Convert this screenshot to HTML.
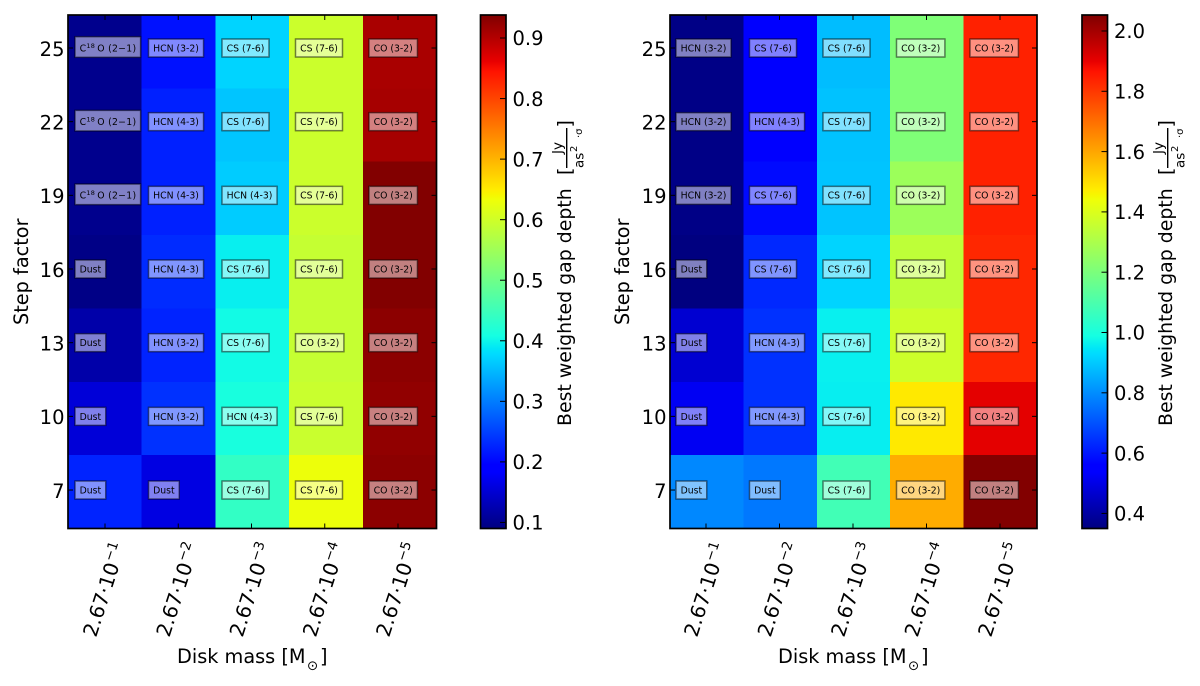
<!DOCTYPE html>
<html lang="en">
<head>
<meta charset="utf-8">
<title>Best weighted gap depth heatmaps</title>
<style>
  html, body { margin: 0; padding: 0; background: #fff; }
  svg { display: block; }
  text { font-family: "DejaVu Sans", "Liberation Sans", sans-serif; fill: #000; }
</style>
</head>
<body>
<svg id="figure" xmlns="http://www.w3.org/2000/svg" width="1200" height="686" viewBox="0 0 1200 686">
  <defs id="defs"></defs>
  <g id="panel-left"></g>
  <g id="panel-right"></g>

  <g>
    <text transform="translate(28 325) rotate(-90)" font-size="19.3">Step factor</text>
    <text x="177" y="663" font-size="19.3">Disk mass [M</text>
    <text x="307" y="670" font-size="13.5">⊙</text>
    <text x="320" y="663" font-size="19.3">]</text>
  </g>
  <g>
    <text transform="translate(571 426) rotate(-90)" font-size="18.9">Best weighted gap depth</text>
    <text transform="translate(571 175) rotate(-90)" font-size="19">[</text>
    <text transform="translate(562 154) rotate(-90)" font-size="13.5">Jy</text>
    <line x1="566.7" x2="566.7" y1="128" y2="168" stroke="#000" stroke-width="1.4"></line>
    <text transform="translate(583.5 168) rotate(-90)" font-size="13.5">as</text>
    <text transform="translate(577 152) rotate(-90)" font-size="10">2</text>
    <text transform="translate(582 138) rotate(-90)" font-size="10">·σ</text>
    <text transform="translate(571 127.5) rotate(-90)" font-size="19">]</text>
  </g>

  <g>
    <text transform="translate(629 325) rotate(-90)" font-size="19.3">Step factor</text>
    <text x="778" y="663" font-size="19.3">Disk mass [M</text>
    <text x="908" y="670" font-size="13.5">⊙</text>
    <text x="921" y="663" font-size="19.3">]</text>
  </g>
  <g>
    <text transform="translate(1172 426) rotate(-90)" font-size="18.9">Best weighted gap depth</text>
    <text transform="translate(1172 175) rotate(-90)" font-size="19">[</text>
    <text transform="translate(1163 154) rotate(-90)" font-size="13.5">Jy</text>
    <line x1="1167.7" x2="1167.7" y1="128" y2="168" stroke="#000" stroke-width="1.4"></line>
    <text transform="translate(1184.5 168) rotate(-90)" font-size="13.5">as</text>
    <text transform="translate(1178 152) rotate(-90)" font-size="10">2</text>
    <text transform="translate(1183 138) rotate(-90)" font-size="10">·σ</text>
    <text transform="translate(1172 127.5) rotate(-90)" font-size="19">]</text>
  </g>
</svg>

<script>
// Shared categories (rows listed top to bottom)
const stepFactors = [25, 22, 19, 16, 13, 10, 7];
const massExponents = ["−1", "−2", "−3", "−4", "−5"];
const massMantissa = "2.67·10";

// Left heatmap values (rows top to bottom, columns left to right)
const leftValues = [
  [0.100, 0.210, 0.372, 0.596, 0.908],
  [0.100, 0.223, 0.360, 0.596, 0.910],
  [0.100, 0.223, 0.366, 0.596, 0.936],
  [0.095, 0.232, 0.395, 0.590, 0.936],
  [0.120, 0.225, 0.405, 0.590, 0.929],
  [0.155, 0.237, 0.412, 0.594, 0.925],
  [0.225, 0.162, 0.438, 0.631, 0.929]
];
const leftLabels = [
  ["C18O", "HCN (3-2)", "CS (7-6)", "CS (7-6)", "CO (3-2)"],
  ["C18O", "HCN (4-3)", "CS (7-6)", "CS (7-6)", "CO (3-2)"],
  ["C18O", "HCN (4-3)", "HCN (4-3)", "CS (7-6)", "CO (3-2)"],
  ["Dust", "HCN (4-3)", "CS (7-6)", "CS (7-6)", "CO (3-2)"],
  ["Dust", "HCN (3-2)", "CS (7-6)", "CO (3-2)", "CO (3-2)"],
  ["Dust", "HCN (3-2)", "HCN (4-3)", "CS (7-6)", "CO (3-2)"],
  ["Dust", "Dust", "CS (7-6)", "CS (7-6)", "CO (3-2)"]
];
const leftColorbarTicks = ["0.1", "0.2", "0.3", "0.4", "0.5", "0.6", "0.7", "0.8", "0.9"];
const leftRange = [0.09, 0.938];

// Right heatmap values (rows top to bottom, columns left to right)
const rightValues = [
  [0.36, 0.554, 0.878, 1.21, 1.84],
  [0.36, 0.546, 0.886, 1.21, 1.84],
  [0.36, 0.580, 0.890, 1.27, 1.84],
  [0.35, 0.630, 0.917, 1.34, 1.83],
  [0.47, 0.645, 0.963, 1.37, 1.83],
  [0.52, 0.645, 0.960, 1.48, 1.906],
  [0.79, 0.764, 1.080, 1.59, 2.05]
];
const rightLabels = [
  ["HCN (3-2)", "CS (7-6)", "CS (7-6)", "CO (3-2)", "CO (3-2)"],
  ["HCN (3-2)", "HCN (4-3)", "CS (7-6)", "CO (3-2)", "CO (3-2)"],
  ["HCN (3-2)", "CS (7-6)", "CS (7-6)", "CO (3-2)", "CO (3-2)"],
  ["Dust", "CS (7-6)", "CS (7-6)", "CO (3-2)", "CO (3-2)"],
  ["Dust", "HCN (4-3)", "CS (7-6)", "CO (3-2)", "CO (3-2)"],
  ["Dust", "HCN (4-3)", "CS (7-6)", "CO (3-2)", "CO (3-2)"],
  ["Dust", "Dust", "CS (7-6)", "CO (3-2)", "CO (3-2)"]
];
const rightColorbarTicks = ["0.4", "0.6", "0.8", "1.0", "1.2", "1.4", "1.6", "1.8", "2.0"];
const rightRange = [0.35, 2.053];

const NS = "http://www.w3.org/2000/svg";
const TOP = 15;
const BOTTOM = 528.5;

function make(tag, attrs, parent) {
  const el = document.createElementNS(NS, tag);
  for (const key in attrs) el.setAttribute(key, attrs[key]);
  parent.appendChild(el);
  return el;
}

function lerp(points, t) {
  for (let i = 1; i < points.length; i++) {
    if (t <= points[i][0]) {
      const a = points[i - 1], b = points[i];
      return a[1] + (b[1] - a[1]) * (t - a[0]) / (b[0] - a[0]);
    }
  }
  return points[points.length - 1][1];
}

function jet(t) {
  const c = Math.max(0, Math.min(1, t));
  const r = lerp([[0, 0], [0.35, 0], [0.66, 1], [0.89, 1], [1, 0.5]], c);
  const g = lerp([[0, 0], [0.125, 0], [0.375, 1], [0.64, 1], [0.91, 0], [1, 0]], c);
  const b = lerp([[0, 0.5], [0.11, 1], [0.34, 1], [0.65, 0], [1, 0]], c);
  return "rgb(" + Math.round(r * 255) + "," + Math.round(g * 255) + "," + Math.round(b * 255) + ")";
}

function drawPanel(opt) {
  const root = document.getElementById(opt.id);
  const nCols = massExponents.length;
  const nRows = stepFactors.length;
  const xScale = i => opt.x0 + i * (opt.x1 - opt.x0) / nCols;
  const yScale = i => TOP + i * (BOTTOM - TOP) / nRows;
  const xTick = i => opt.tickX0 + i * opt.tickDX;
  const yTick = i => 48 + i * 73.67;
  const colorScale = v => (v - opt.range[0]) / (opt.range[1] - opt.range[0]);
  const barY = v => BOTTOM - colorScale(v) * (BOTTOM - TOP);

  // heatmap cells
  opt.values.forEach((row, r) => {
    row.forEach((value, c) => {
      const cell = make("rect", {
        x: xScale(c), y: yScale(r),
        width: xScale(c + 1) - xScale(c) + 0.5,
        height: yScale(r + 1) - yScale(r) + 0.5,
        fill: jet(colorScale(value)),
        "shape-rendering": "crispEdges"
      }, root);
      
      
    });
  });

  // annotation boxes
  opt.labels.forEach((row, r) => {
    row.forEach((label, c) => {
      const boxX = opt.boxX0 + c * 73.5;
      const cy = yTick(r);
      const isIsotope = label === "C18O";
      const height = isIsotope ? 20.6 : 18;
      const group = make("g", {}, root);
      
      
      const box = make("rect", {
        x: boxX, y: cy - height / 2 - (isIsotope ? 1 : 0), height: height, width: 10,
        fill: "rgba(255,255,255,0.5)", stroke: "rgba(0,0,0,0.5)", "stroke-width": 1.5
      }, group);
      
      
      const text = make("text", { x: boxX + 4.6, y: cy + 3.4, "font-size": 9.3 }, group);
      
      
      if (isIsotope) {
        make("tspan", {}, text).textContent = "C";
        const sup = make("tspan", { dy: -3.5, "font-size": 6.5 }, text);
        sup.textContent = "18";
        const rest = make("tspan", { dy: 3.5, dx: 2 }, text);
        rest.textContent = "O (2−1)";
        text.setAttribute("textLength", 56.5);
        box.setAttribute("width", 65.6);
      } else {
        text.textContent = label;
        box.setAttribute("width", text.getComputedTextLength() + 9.2);
      }
    });
  });

  // axes frame
  const frame = make("rect", {
    x: opt.x0, y: TOP, width: opt.x1 - opt.x0, height: BOTTOM - TOP,
    fill: "none", stroke: "#000", "stroke-width": 1.7
  }, root);
  
  

  // x ticks
  massExponents.forEach((exponent, c) => {
    const x = xTick(c);
    const tickBottom = make("line", { x1: x, x2: x, y1: BOTTOM, y2: BOTTOM - 5, stroke: "#000", "stroke-width": 1 }, root);
    
    
    const tickTop = make("line", { x1: x, x2: x, y1: TOP, y2: TOP + 5, stroke: "#000", "stroke-width": 1 }, root);
    
    
    const label = make("text", {
      transform: "translate(" + (x - 9) + " 638) rotate(-72)", "font-size": 20
    }, root);
    
    
    make("tspan", {}, label).textContent = massMantissa;
    const sup = make("tspan", { dy: -8, dx: 1, "font-size": 13.5 }, label);
    sup.textContent = exponent;
  });

  // y ticks
  stepFactors.forEach((factor, r) => {
    const y = yTick(r);
    const tickLeft = make("line", { x1: opt.x0, x2: opt.x0 + 5, y1: y, y2: y, stroke: "#000", "stroke-width": 1 }, root);
    
    
    const tickRight = make("line", { x1: opt.x1, x2: opt.x1 - 5, y1: y, y2: y, stroke: "#000", "stroke-width": 1 }, root);
    
    
    const label = make("text", { x: opt.x0 - 3.5, y: y + 7.8, "text-anchor": "end", "font-size": 19.5 }, root);
    
    
    label.textContent = factor;
  });

  // colorbar
  const gradient = make("linearGradient", { id: opt.id + "-jet", x1: 0, y1: 1, x2: 0, y2: 0 }, document.getElementById("defs"));
  [0, 0.11, 0.125, 0.34, 0.35, 0.375, 0.64, 0.65, 0.66, 0.89, 0.91, 1].forEach(stop => {
    make("stop", { offset: stop, "stop-color": jet(stop) }, gradient);
  });
  const bar = make("rect", {
    x: opt.barX, y: TOP, width: opt.barW, height: BOTTOM - TOP,
    fill: "url(#" + opt.id + "-jet)", stroke: "#000", "stroke-width": 1.7
  }, root);
  
  

  opt.ticks.forEach(tick => {
    const y = barY(parseFloat(tick));
    const mark = make("line", {
      x1: opt.barX + opt.barW, x2: opt.barX + opt.barW - 6, y1: y, y2: y,
      stroke: "#000", "stroke-width": 1
    }, root);
    
    
    const label = make("text", { x: opt.barX + opt.barW + 6.5, y: y + 7.2, "font-size": 19.5 }, root);
    
    
    label.textContent = tick;
  });
}

drawPanel({
  id: "panel-left", x0: 68, x1: 436.5, barX: 480.5, barW: 25.5,
  tickX0: 105, tickDX: 73.25, boxX0: 75,
  values: leftValues, labels: leftLabels, ticks: leftColorbarTicks, range: leftRange
});
drawPanel({
  id: "panel-right", x0: 670, x1: 1037, barX: 1082, barW: 25.5,
  tickX0: 706, tickDX: 73.5, boxX0: 676,
  values: rightValues, labels: rightLabels, ticks: rightColorbarTicks, range: rightRange
});
</script>
</body>
</html>
